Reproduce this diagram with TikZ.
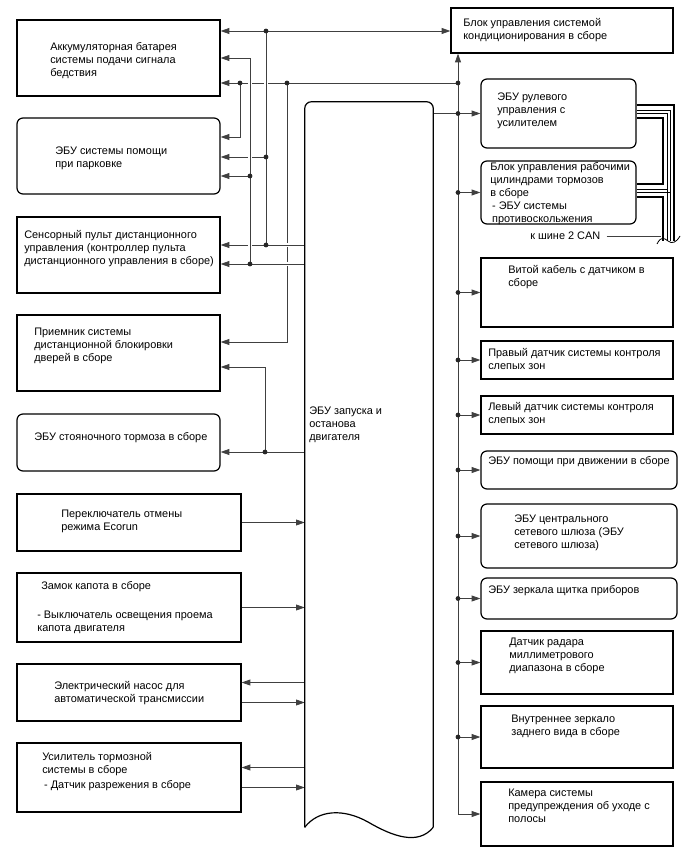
\documentclass[tikz,border=0pt]{standalone}
\usepackage{fontspec}
\setmainfont{Liberation Sans}
\usetikzlibrary{arrows.meta, positioning, fit}

\begin{document}
\begin{tikzpicture}[
    x=0.75pt, y=-0.75pt,
    box/.style={draw, line width=0.9pt, inner sep=0pt},
    rbox/.style={box, rounded corners=4.5pt},
    txt/.style={anchor=north west, inner sep=0pt, align=left, font=\fontsize{8.2}{9.7}\selectfont},
    wire/.style={draw=black!75, line width=0.6pt},
    arrow/.style={wire, -{Triangle[length=6.5pt, width=4.4pt]}},
    twoway/.style={wire, {Triangle[length=6.5pt, width=4.4pt]}-{Triangle[length=6.5pt, width=4.4pt]}},
    halo/.style={preaction={draw=white, line width=3pt}},
    cable/.style={line width=1.9pt},
    pair/.style={line width=0.5pt}
]
\useasboundingbox (0,0) rectangle (688,852);

% left column
\node[box, fit={(17,20) (220,96)}] (batt) {};
\node[rbox, fit={(17,118) (220,194)}] (park) {};
\node[box, fit={(17,217) (220,293)}] (remote) {};
\node[box, fit={(17,315) (220,391)}] (lock) {};
\node[rbox, fit={(17,414) (220,471)}] (pbrake) {};
\node[box, fit={(17,494) (241,551)}] (ecosw) {};
\node[box, fit={(17,573) (241,642)}] (hood) {};
\node[box, fit={(17,664) (241,721)}] (pump) {};
\node[box, fit={(17,743) (241,812)}] (booster) {};

\node[txt] (batt-t) at (50,42) {Аккумуляторная батарея\\системы подачи сигнала\\бедствия};
\node[txt] (park-t) at (55,147) {ЭБУ системы помощи\\при парковке};
\node[txt] (remote-t) at (24,230) {Сенсорный пульт дистанционного\\управления (контроллер пульта\\дистанционного управления в сборе)};
\node[txt] (lock-t) at (34,328) {Приемник системы\\дистанционной блокировки\\дверей в сборе};
\node[txt] (pbrake-t) at (34,432) {ЭБУ стояночного тормоза в сборе};
\node[txt] (ecosw-t) at (61,510) {Переключатель отмены\\режима Ecorun};
\node[txt] (hood-t) at (37,581) {\hspace{3pt}Замок капота в сборе\\[12pt]- Выключатель освещения проема\\капота двигателя};
\node[txt] (pump-t) at (54,681) {Электрический насос для\\автоматической трансмиссии};
\node[txt] (booster-t) at (42,752) {Усилитель тормозной\\системы в сборе\\[2pt]\,- Датчик разрежения в сборе};

% engine ECU
\node[inner sep=0pt, fit={(305,102) (433,827)}] (ecu) {};
\node[txt] (ecu-t) at (309,407) {ЭБУ запуска и\\останова\\двигателя};

% right column
\node[box, fit={(451,8) (673,53)}] (aircon) {};
\node[rbox, fit={(481,79) (636,148)}] (steer) {};
\node[rbox, fit={(481,161) (636,224)}] (brkact) {};
\node[box, fit={(481,258) (673,327)}] (spiral) {};
\node[box, fit={(481,341) (673,379)}] (bsmr) {};
\node[box, fit={(481,396) (673,434)}] (bsml) {};
\node[rbox, fit={(481,451) (677,489)}] (drvassist) {};
\node[rbox, fit={(481,504) (677,568)}] (gateway) {};
\node[rbox, fit={(481,578) (677,619)}] (mirror) {};
\node[box, fit={(481,631) (673,694)}] (radar) {};
\node[box, fit={(481,706) (673,768)}] (inmirror) {};
\node[box, fit={(481,782) (673,846)}] (lanecam) {};

\node[txt] (aircon-t) at (463,18) {Блок управления системой\\кондиционирования в сборе};
\node[txt] (steer-t) at (497,93) {ЭБУ рулевого\\управления с\\усилителем};
\node[txt] (brkact-t) at (490,162) {Блок управления рабочими\\цилиндрами тормозов\\в сборе\\\,- ЭБУ системы\\\,противоскольжения};
\node[txt] (spiral-t) at (508,265) {Витой кабель с датчиком в\\сборе};
\node[txt] (bsmr-t) at (488,348) {Правый датчик системы контроля\\слепых зон};
\node[txt] (bsml-t) at (488,402) {Левый датчик системы контроля\\слепых зон};
\node[txt] (drvassist-t) at (488,456) {ЭБУ помощи при движении в сборе};
\node[txt] (gateway-t) at (514,515) {ЭБУ центрального\\сетевого шлюза (ЭБУ\\сетевого шлюза)};
\node[txt] (mirror-t) at (488,585) {ЭБУ зеркала щитка приборов};
\node[txt] (radar-t) at (509,638) {Датчик радара\\миллиметрового\\диапазона в сборе};
\node[txt] (inmirror-t) at (511,715) {Внутреннее зеркало\\заднего вида в сборе};
\node[txt] (lanecam-t) at (508,789) {Камера системы\\предупреждения об уходе с\\полосы};
\node[anchor=west, inner sep=0pt, font=\fontsize{8.2}{9.7}\selectfont] (can-t) at (530,236) {к шине 2 CAN};

% junctions
\coordinate (top266) at (266,31);
\coordinate (v250top) at (250,58);
\coordinate (h83) at (458,83);
\coordinate (d240) at (240,83);
\coordinate (d287) at (287,83);
\coordinate (p137) at (240,137);
\coordinate (p157) at (266,157);
\coordinate (p176) at (250,176);
\coordinate (r245) at (266,245);
\coordinate (r264) at (250,264);
\coordinate (k342) at (287,342);
\coordinate (q367) at (265,367);
\coordinate (s452) at (265,452);
\coordinate (can-bus) at (661,236);
\path ([yshift=7.5pt]pump.east) coordinate (pump-in) ([yshift=-7.5pt]pump.east) coordinate (pump-out);
\path ([yshift=7.5pt]booster.east) coordinate (boost-in) ([yshift=-7.5pt]booster.east) coordinate (boost-out);

% upper left wiring (gaps where lines cross)
\draw[arrow] (d287) -- (k342) -- (k342 -| lock.east);
\draw[arrow, halo] (r245 -| ecu.west) -- (r245 -| remote.east);
\draw[arrow, halo] (r264 -| ecu.west) -- (r264 -| remote.east);
\draw[arrow] (h83) -- (h83 -| batt.east);
\draw[arrow] (p157) -- (p157 -| park.east);
\draw[wire, halo] (top266) -- (r245);
\draw[arrow, halo] (r264) -- (v250top) -- (v250top -| batt.east);
\draw[arrow] (p176) -- (p176 -| park.east);
\draw[arrow] (d240) -- (p137) -- (p137 -| park.east);
\draw[twoway] (top266 -| batt.east) -- (top266 -| aircon.west);
\draw[arrow] (s452 -| ecu.west) -- (s452 -| pbrake.east);
\draw[arrow] (s452) -- (q367) -- (q367 -| lock.east);

% lower left wiring
\draw[arrow] (ecosw.east) -- (ecosw.east -| ecu.west);
\draw[arrow] (hood.east) -- (hood.east -| ecu.west);
\draw[arrow] (pump-in -| ecu.west) -- (pump-in);
\draw[arrow] (pump-out) -- (pump-out -| ecu.west);
\draw[arrow] (boost-in -| ecu.west) -- (boost-in);
\draw[arrow] (boost-out) -- (boost-out -| ecu.west);

% right bus
\draw[arrow] (h83) -- (h83 |- aircon.south);
\draw[arrow] (h83) |- (lanecam.west);
\draw[wire] (ecu.east |- steer.west) -- (h83 |- steer.west);
\foreach \n in {steer, brkact, spiral, bsmr, bsml, drvassist, gateway, mirror, radar, inmirror} {
  \draw[arrow] (h83 |- \n.west) -- (\n.west);
  \fill[black!85] (h83 |- \n.west) circle[radius=1.8pt];
}

% engine ECU outline
\draw[line width=0.9pt, rounded corners=5pt] (ecu.south west) -- (ecu.north west) -- (ecu.north east) -- (ecu.south east);
\draw[line width=0.9pt] (ecu.south east) .. controls (418,846) and (392,836) .. (368,822) .. controls (343,808) and (318,810) .. (ecu.south west);

% CAN 2 bundle
\draw[cable] (steer.east |- 0,105) -| (674,241);
\draw[pair] (steer.east |- 0,110) -| (670,241);
\draw[pair] (steer.east |- 0,113) -| (667,241);
\draw[cable] (steer.east |- 0,118) -| (663,184) -- (brkact.east |- 0,184);
\draw[pair] (brkact.east |- 0,189) -- (667,189);
\draw[pair] (brkact.east |- 0,192) -- (670,192);
\draw[cable] (brkact.east |- 0,197) -| (663,241);
\draw[line width=0.6pt] (657,244) .. controls (661,236) and (664,238) .. (668,241) .. controls (672,244) and (676,243) .. (680,236);
\draw[wire] (can-t.east) ++(6,0) -- (can-bus);

% dots
\foreach \p in {top266, d240, d287, h83, p157, p176, r245, r264, s452}
  \fill[black!85] (\p) circle[radius=1.8pt];
\end{tikzpicture}
\end{document}
